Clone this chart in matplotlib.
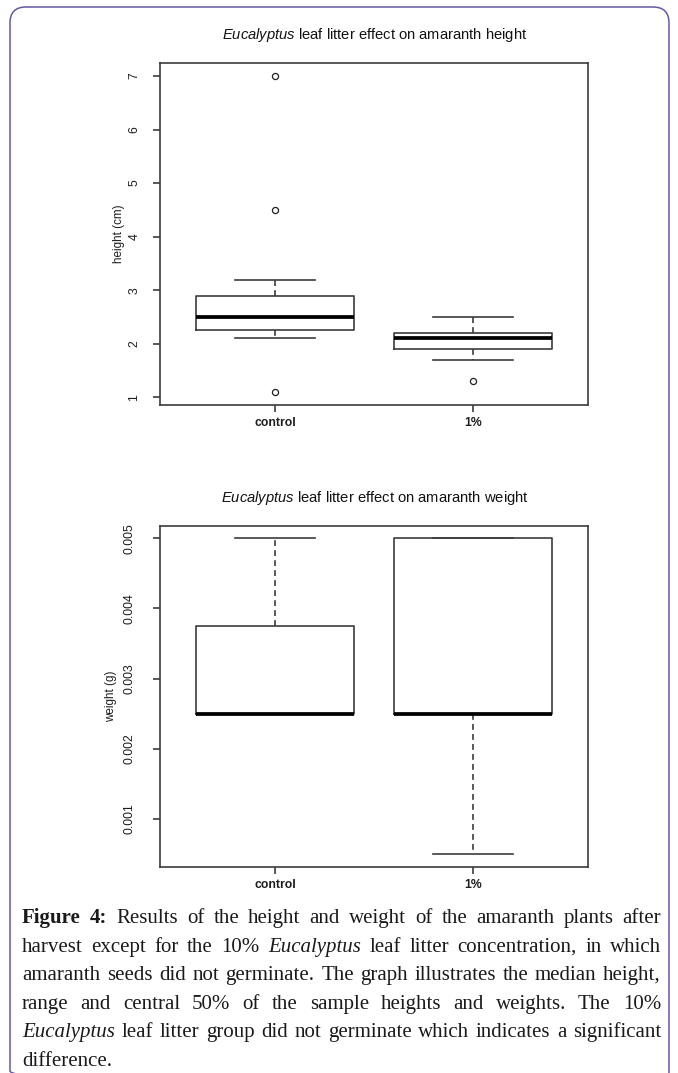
import numpy as np
import matplotlib
matplotlib.use("Agg")
import matplotlib.pyplot as plt
from matplotlib.patches import FancyBboxPatch

plt.rcParams['font.family'] = ['Liberation Sans', 'DejaVu Sans']
plt.rcParams['mathtext.fontset'] = 'custom'
plt.rcParams['mathtext.rm'] = 'Liberation Sans'
plt.rcParams['mathtext.it'] = 'Liberation Sans:italic'

groups = ['control', '1%']

# height (cm)
height_whislo = [2.1, 1.7]
height_q1     = [2.25, 1.9]
height_med    = [2.5, 2.1]
height_q3     = [2.9, 2.2]
height_whishi = [3.2, 2.5]
height_fliers = [[1.1, 4.5, 7.0], [1.3]]
height_ticks  = [1, 2, 3, 4, 5, 6, 7]

# weight (g), lower panel
weight_whislo = [0.0025, 0.0005]
weight_q1     = [0.0025, 0.0025]
weight_med    = [0.0025, 0.0025]
weight_q3     = [0.00375, 0.005]
weight_whishi = [0.005, 0.005]
weight_fliers = [[], []]
weight_ticks  = [0.001, 0.002, 0.003, 0.004, 0.005]

caption = [
    "**Figure** **4:** Results of the height and weight of the amaranth plants after",
    "harvest except for the 10% *Eucalyptus* leaf litter concentration, in which",
    "amaranth seeds did not germinate. The graph illustrates the median height,",
    "range and central 50% of the sample heights and weights. The 10%",
    "*Eucalyptus* leaf litter group did not germinate which indicates a significant",
    "difference.",
]

W, H = 678, 1073
fig = plt.figure(figsize=(W / 100, H / 100), dpi=100)

# overlay in pixel units for the frame, titles and caption
ov = fig.add_axes([0, 0, 1, 1])
ov.set_xlim(0, W)
ov.set_ylim(H, 0)
ov.axis('off')
ov.add_patch(FancyBboxPatch((10, 7), 659, 1080,
                            boxstyle="round,pad=0,rounding_size=16",
                            fill=False, ec='#6459a3', lw=1.1))

AX = '#3c3c3c'
TXT = '#1e1e1e'


def rbox(ax, whislo, q1, med, q3, whishi, fliers, ticks, ylab, fmt, tpad, labx):
    stats = []
    for i in range(len(groups)):
        stats.append(dict(whislo=whislo[i], q1=q1[i], med=med[i], q3=q3[i],
                          whishi=whishi[i], fliers=fliers[i]))
    ax.bxp(stats, positions=[1, 2], widths=0.8, capwidths=0.4,
           boxprops=dict(color=AX, lw=1.2),
           whiskerprops=dict(color=AX, lw=1.2, ls=(0, (3.5, 2.5))),
           capprops=dict(color=AX, lw=1.2),
           medianprops=dict(color='black', lw=2.7, solid_capstyle='butt'),
           flierprops=dict(marker='o', ms=4.4, mfc='none', mec='#222222', mew=0.9))
    # R style 4% padding
    allv = np.concatenate([whislo, whishi] + [np.array(f, float) for f in fliers])
    lo, hi = allv.min(), allv.max()
    pad = (hi - lo) * 0.04
    ax.set_ylim(lo - pad, hi + pad)
    ax.set_xlim(0.5 - 0.08, 2.5 + 0.08)
    ax.set_xticks([1, 2])
    ax.set_xticklabels(groups, fontweight='bold', fontsize=8.8, color=TXT)
    ax.set_yticks(ticks)
    ax.set_yticklabels([fmt.format(t) for t in ticks], fontsize=8.8, color=TXT,
                       rotation=90, va='center')
    ax.tick_params(axis='both', length=5, width=1.2, color=AX)
    ax.tick_params(axis='x', pad=4)
    ax.tick_params(axis='y', pad=tpad)
    for s in ax.spines.values():
        s.set_color(AX)
        s.set_linewidth(1.2)
    ax.set_ylabel(ylab, fontsize=8.4, color=TXT)
    ax.yaxis.set_label_coords((labx - 160) / 428, 0.5)


ax1 = fig.add_axes([160 / W, 1 - 404.7 / H, 428 / W, 341.4 / H])
rbox(ax1, height_whislo, height_q1, height_med, height_q3, height_whishi,
     height_fliers, height_ticks, 'height (cm)', '{:g}', 9, 125)

ax2 = fig.add_axes([160 / W, 1 - 866.7 / H, 428 / W, 341.1 / H])
rbox(ax2, weight_whislo, weight_q1, weight_med, weight_q3, weight_whishi,
     weight_fliers, weight_ticks, 'weight (g)', '{:.3f}', 12.5, 117)

ov.text(375, 35, r'$\it{Eucalyptus}$ leaf litter effect on amaranth height',
        ha='center', va='center', fontsize=10.6, color='#111111')
ov.text(375, 498, r'$\it{Eucalyptus}$ leaf litter effect on amaranth weight',
        ha='center', va='center', fontsize=10.6, color='#111111')

# caption, justified word by word like the page
fig.canvas.draw()
rend = fig.canvas.get_renderer()
x0, x1 = 22, 661
base0, step = 923, 28.6
for li, line in enumerate(caption):
    objs = []
    for w in line.split(' '):
        kw = dict(family=['Liberation Serif', 'DejaVu Serif'], fontsize=15, color='#1a1a1a')
        if w.startswith('**'):
            w = w.strip('*')
            kw['fontweight'] = 'bold'
        elif w.startswith('*'):
            w = w.strip('*')
            kw['fontstyle'] = 'italic'
        objs.append(ov.text(0, base0 + li * step, w, ha='left', va='baseline', **kw))
    widths = [t.get_window_extent(rend).width for t in objs]
    if li < len(caption) - 1:
        gap = (x1 - x0 - sum(widths)) / (len(objs) - 1)
    else:
        gap = 5
    x = x0
    for t, wd in zip(objs, widths):
        t.set_x(x)
        x += wd + gap

fig.savefig('out.png', dpi=100)
